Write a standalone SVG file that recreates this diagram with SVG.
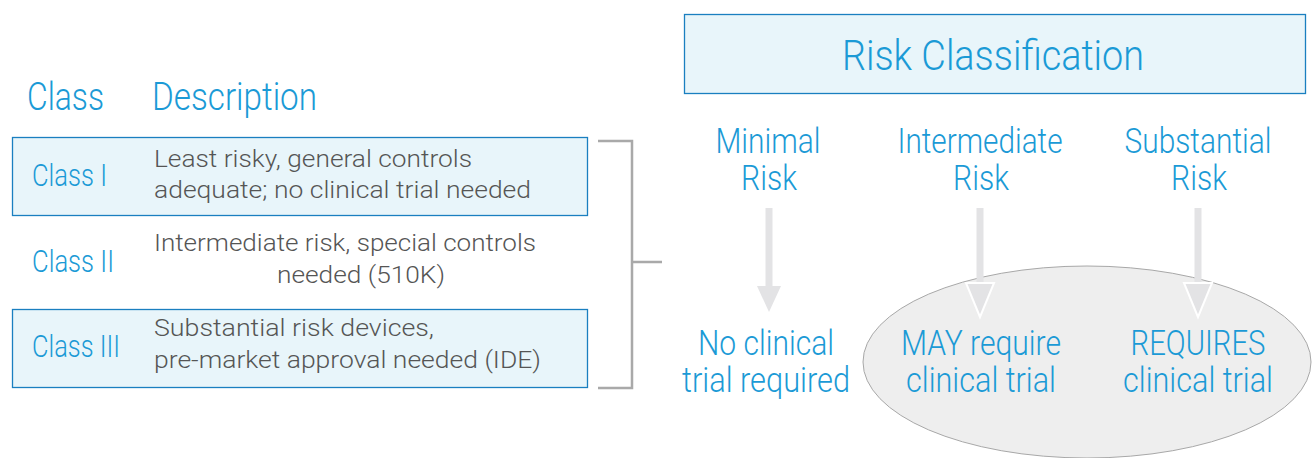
<svg xmlns="http://www.w3.org/2000/svg" width="1312" height="458" viewBox="0 0 1312 458">
<style>
.b{fill:#1b9ad6;font-family:Roboto,"Liberation Sans",sans-serif;font-weight:300}
.g{fill:#555;font-family:Roboto,"Liberation Sans",sans-serif;font-weight:300;font-size:23px}
.box{fill:#e8f5fa;stroke:#1a7fc0;stroke-width:1.3}
.brk{fill:none;stroke:#a9a9a9;stroke-width:2.5}
.shaft{stroke:#e3e3e5;stroke-width:7}
.head{fill:#e3e3e5}
.headw{fill:#e3e3e5;stroke:#fff;stroke-width:2}
</style>
<rect width="1312" height="458" fill="#fff"/>
<g id="header">
<text class="b" x="27" y="110" font-size="39" textLength="77" lengthAdjust="spacingAndGlyphs">Class</text>
<text class="b" x="152" y="110" font-size="39" textLength="165" lengthAdjust="spacingAndGlyphs">Description</text>
</g>
<g id="class1">
<rect class="box" x="12.5" y="137.5" width="575" height="78"/>
<text class="b" x="32" y="186" font-size="31" textLength="75" lengthAdjust="spacingAndGlyphs">Class I</text>
<text class="g" x="154" y="167" textLength="318" lengthAdjust="spacingAndGlyphs">Least risky, general controls</text>
<text class="g" x="154" y="198" textLength="377" lengthAdjust="spacingAndGlyphs">adequate; no clinical trial needed</text>
</g>
<g id="class2">
<text class="b" x="32" y="272" font-size="31" textLength="82" lengthAdjust="spacingAndGlyphs">Class II</text>
<text class="g" x="154" y="251" textLength="382" lengthAdjust="spacingAndGlyphs">Intermediate risk, special controls</text>
<text class="g" x="277" y="283" textLength="168" lengthAdjust="spacingAndGlyphs">needed (510K)</text>
</g>
<g id="class3">
<rect class="box" x="12.5" y="309.5" width="575" height="78"/>
<text class="b" x="32" y="357" font-size="31" textLength="88" lengthAdjust="spacingAndGlyphs">Class III</text>
<text class="g" x="154" y="336" textLength="280" lengthAdjust="spacingAndGlyphs">Substantial risk devices,</text>
<text class="g" x="154" y="368" textLength="387" lengthAdjust="spacingAndGlyphs">pre-market approval needed (IDE)</text>
</g>
<g id="bracket">
<path class="brk" d="M598 141 H632 V388 H598 M632 262 H662"/>
</g>
<g id="risk-classification">
<rect class="box" x="684.5" y="14.5" width="621" height="79"/>
<text class="b" x="993" y="70" font-size="42" text-anchor="middle" textLength="302" lengthAdjust="spacingAndGlyphs">Risk Classification</text>
</g>
<g id="ellipse">
<ellipse cx="1087" cy="362" rx="224" ry="96" fill="#eeeeee" stroke="#a8a8a8" stroke-width="1"/>
</g>
<g id="minimal">
<text class="b" x="768" y="153" font-size="35" text-anchor="middle" textLength="105" lengthAdjust="spacingAndGlyphs">Minimal</text>
<text class="b" x="769" y="190" font-size="35" text-anchor="middle" textLength="56" lengthAdjust="spacingAndGlyphs">Risk</text>
</g>
<g id="intermediate">
<text class="b" x="980" y="153" font-size="35" text-anchor="middle" textLength="165" lengthAdjust="spacingAndGlyphs">Intermediate</text>
<text class="b" x="981" y="190" font-size="35" text-anchor="middle" textLength="56" lengthAdjust="spacingAndGlyphs">Risk</text>
</g>
<g id="substantial">
<text class="b" x="1198" y="153" font-size="35" text-anchor="middle" textLength="147" lengthAdjust="spacingAndGlyphs">Substantial</text>
<text class="b" x="1199" y="190" font-size="35" text-anchor="middle" textLength="56" lengthAdjust="spacingAndGlyphs">Risk</text>
</g>
<g id="connectors">
<line class="shaft" x1="769" y1="208" x2="769" y2="288"/>
<polygon class="head" points="757,286 781,286 769,312"/>
<line class="shaft" x1="980" y1="208" x2="980" y2="286"/>
<polygon class="headw" points="966,283 994,283 980,317"/>
<line class="shaft" x1="1198" y1="208" x2="1198" y2="286"/>
<polygon class="headw" points="1184,283 1212,283 1198,317"/>
</g>
<g id="no-trial">
<text class="b" x="766" y="355" font-size="35" text-anchor="middle" textLength="136" lengthAdjust="spacingAndGlyphs">No clinical</text>
<text class="b" x="766" y="392" font-size="35" text-anchor="middle" textLength="168" lengthAdjust="spacingAndGlyphs">trial required</text>
</g>
<g id="may-require">
<text class="b" x="981" y="355" font-size="35" text-anchor="middle" textLength="160" lengthAdjust="spacingAndGlyphs">MAY require</text>
<text class="b" x="981" y="392" font-size="35" text-anchor="middle" textLength="150" lengthAdjust="spacingAndGlyphs">clinical trial</text>
</g>
<g id="requires">
<text class="b" x="1198" y="355" font-size="35" text-anchor="middle" textLength="135" lengthAdjust="spacingAndGlyphs">REQUIRES</text>
<text class="b" x="1198" y="392" font-size="35" text-anchor="middle" textLength="150" lengthAdjust="spacingAndGlyphs">clinical trial</text>
</g>
</svg>
